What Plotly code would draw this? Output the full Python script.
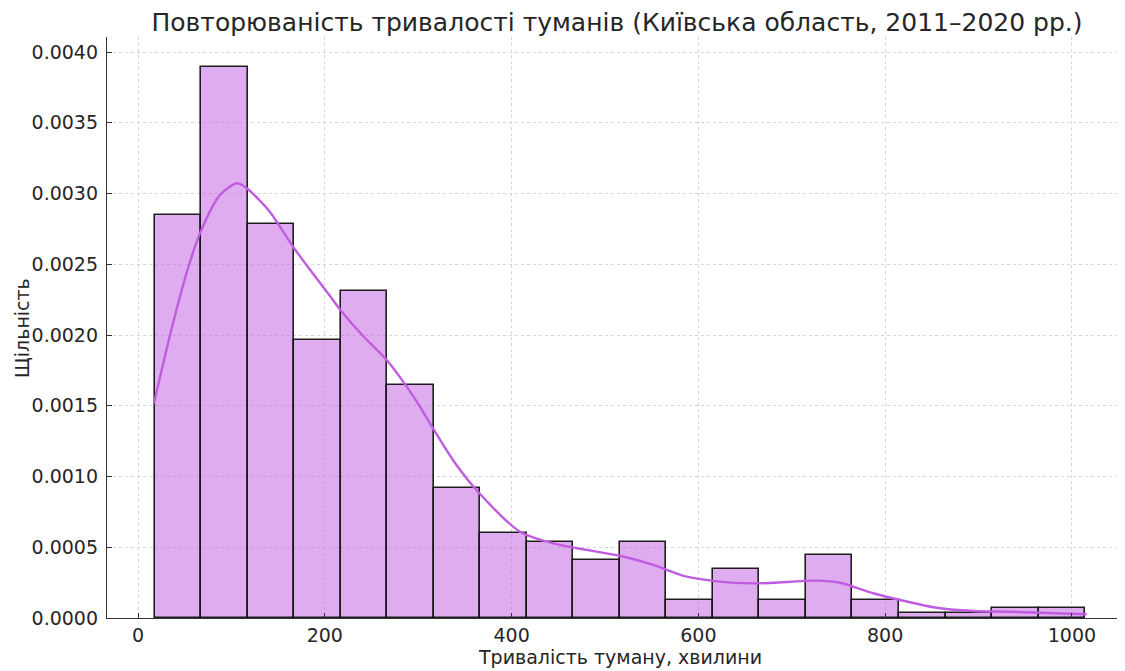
import plotly.graph_objects as go

# ---- data ----
bin_start = 18.0
bin_width = 49.8
density = [0.002848, 0.003894, 0.002784, 0.001965, 0.002311, 0.001647, 0.000919,
           0.000601, 0.000537, 0.000410, 0.000537, 0.000127, 0.000346, 0.000127,
           0.000445, 0.000127, 0.0000353, 0.0000353, 0.0000707, 0.0000707]

kde_x = [17.1, 34.3, 52.1, 66.4, 87.8, 106.3, 116.4, 140.0, 166.0, 186.0, 205.6, 216.3,
         240.0, 266.3, 287.7, 301.9, 316.2, 340.0, 366.2, 409.0, 444.6, 480.4, 516.1, 551.7,
         587.5, 623.1, 658.8, 680.2, 726.7, 751.6, 787.3, 815.8, 858.7, 894.3, 930.1, 965.7,
         1015.7]
kde_y = [0.001517, 0.002000, 0.002440, 0.002720, 0.002990, 0.003072, 0.003037,
         0.002880, 0.002624, 0.002445, 0.002275, 0.002180, 0.002000, 0.001823, 0.001635,
         0.001493, 0.001336, 0.001090, 0.000876, 0.000610, 0.000528, 0.000481, 0.000440,
         0.000375, 0.000292, 0.000257, 0.000245, 0.000249, 0.000264, 0.000249, 0.000175,
         0.000127, 0.0000685, 0.0000495, 0.0000445, 0.0000375, 0.000026]

title = "Повторюваність тривалості туманів (Київська область, 2011–2020 рр.)"
x_label = "Тривалість туману, хвилини"
y_label = "Щільність"

bin_left = [bin_start + i * bin_width for i in range(len(density))]

FONT = "DejaVu Sans"
TEXT = "#262626"
GRID = "#d6d6d6"

# The page body has an 8px default margin; the figure is sized to compensate.
W, H = 1117, 663
ML, MR, MT, MB = 99, 0, 29, 53
PLOT_H = H - MT - MB
PLOT_W = W - ML - MR

fig = go.Figure()
fig.add_trace(go.Bar(
    x=bin_left, y=density, width=bin_width, offset=0,
    marker=dict(color="rgba(192,92,224,0.5)",
                line=dict(color="rgba(20,20,20,0.95)", width=1.6)),
    showlegend=False, hoverinfo="skip",
))
fig.add_trace(go.Scatter(
    x=kde_x, y=kde_y, mode="lines",
    line=dict(color="#c05ce0", width=2.4, shape="spline", smoothing=0.8),
    showlegend=False,
))

fig.update_layout(
    width=W, height=H,
    margin=dict(l=ML, r=MR, t=MT, b=MB, autoexpand=False),
    paper_bgcolor="white", plot_bgcolor="white",
    bargap=0,
    font=dict(family=FONT, color=TEXT, size=19),
    title=dict(text=title, x=(ML + PLOT_W / 2 + 1) / W, xanchor="center",
               y=1 - 14 / H, yanchor="middle",
               yref="container", font=dict(family=FONT, size=25, color=TEXT)),
    xaxis=dict(
        range=[-33.2, 1056.8], tickmode="linear", tick0=0, dtick=200,
        showline=True, linecolor="#333333", linewidth=1.3, mirror=False,
        ticks="inside", ticklen=5, tickwidth=1, tickcolor="#333333",
        showgrid=True, gridcolor=GRID, griddash="3px,3px", gridwidth=0.8,
        zeroline=False, ticklabelstandoff=0, automargin=False,
    ),
    yaxis=dict(
        range=[0, 0.004106], tickmode="linear", tick0=0, dtick=0.0005, tickformat=".4f",
        showline=True, linecolor="#333333", linewidth=1.3, mirror=False,
        ticks="inside", ticklen=5, tickwidth=1, tickcolor="#333333",
        showgrid=True, gridcolor=GRID, griddash="3px,3px", gridwidth=0.8,
        zeroline=False, ticklabelstandoff=4, automargin=False,
    ),
    annotations=[
        dict(text=x_label, xref="paper", yref="paper", x=0.5 + 4 / PLOT_W,
             y=-(657 - 618) / PLOT_H, xanchor="center", yanchor="middle",
             showarrow=False, font=dict(size=19, color=TEXT)),
        dict(text=y_label, xref="paper", yref="paper", x=-(107 - 22) / PLOT_W,
             y=1 - (328 - 37) / PLOT_H, xanchor="center", yanchor="middle",
             textangle=-90, showarrow=False, font=dict(size=19, color=TEXT)),
    ],
)

fig.write_html("out.html")
